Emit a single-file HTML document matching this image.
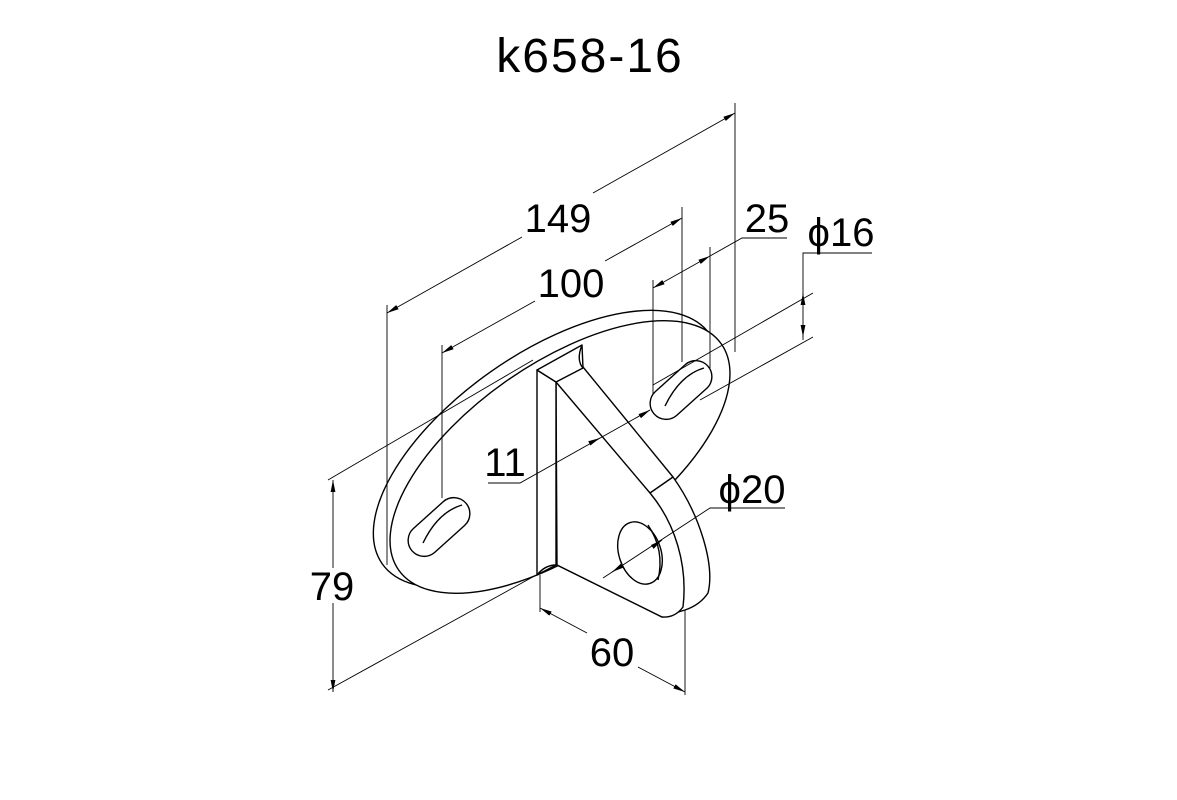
<!DOCTYPE html>
<html><head><meta charset="utf-8"><style>
html,body{margin:0;padding:0;background:#fff;}
svg{display:block;}
text{font-family:"Liberation Sans","DejaVu Sans",sans-serif;fill:#000;}
</style></head><body>
<svg width="1177" height="800" viewBox="0 0 1177 800" xmlns="http://www.w3.org/2000/svg">
<defs>
<marker id="a" viewBox="0 0 10 4" refX="10" refY="2" markerWidth="12" markerHeight="5" orient="auto-start-reverse" markerUnits="userSpaceOnUse"><path d="M0,0 L10,2 L0,4 Z" fill="#000"/></marker>
</defs>
<text x="590" y="72" font-size="48" text-anchor="middle" letter-spacing="2">k658-16</text>

<g stroke="#000" stroke-width="1.4" fill="#fff" stroke-linejoin="round">
<!-- plate -->
<ellipse cx="546" cy="449" rx="200" ry="95" transform="rotate(-35 546 449)"/>
<ellipse cx="560" cy="457" rx="197" ry="93" transform="rotate(-35 560 457)"/>
<!-- slots -->
<rect x="403" y="511" width="72" height="32" rx="16" transform="rotate(-42 439 527)"/>
<path d="M423,543 Q438,512 462,505" fill="none"/>
<rect x="645" y="374" width="72" height="32" rx="16" transform="rotate(-42 681 390)"/>
<path d="M665,406 Q680,375 704,368" fill="none"/>
<!-- rib side / lobe -->
<path d="M583,367 L673,477 C700,515 715,565 708,593 Q700,605 685,610 L662,617 L557,565 L556,382 Z"/>
<!-- rib front -->
<path d="M556,382 L650,493 C675,523 688,565 683,607 Q675,618 662,617 L557,565 Z"/>
<line x1="650" y1="493" x2="673" y2="477"/>
<!-- rib left face and top -->
<path d="M537,370 L556,382 L556,565 L537,575 Z"/>
<path d="M537,370 L582,345 L583,368 L556,382 Z"/>
<path d="M582,345 Q576,360 583,368" fill="none"/>
<path d="M537,575 Q545,565 556,565" fill="none"/>
<!-- hole -->
<ellipse cx="640" cy="553" rx="21" ry="32" transform="rotate(-18 640 553)"/>
<path d="M648,525 Q665,550 658,580" fill="none"/>
</g>

<g stroke="#000" stroke-width="0.9" fill="none">
<!-- 149 -->
<line x1="387" y1="305" x2="387" y2="565"/>
<line x1="735" y1="103" x2="735" y2="352"/>
<line x1="387" y1="313" x2="522" y2="237" marker-start="url(#a)"/>
<line x1="593" y1="193" x2="735" y2="113" marker-end="url(#a)"/>
<!-- 100 -->
<line x1="442" y1="345" x2="442" y2="498"/>
<line x1="682" y1="207" x2="682" y2="362"/>
<line x1="442" y1="353" x2="535" y2="301" marker-start="url(#a)"/>
<line x1="605" y1="261" x2="682" y2="218" marker-end="url(#a)"/>
<!-- 25 -->
<line x1="653" y1="280" x2="653" y2="395"/>
<line x1="710" y1="247" x2="710" y2="368"/>
<line x1="653" y1="288" x2="710" y2="256" marker-start="url(#a)" marker-end="url(#a)"/>
<polyline points="710,256 742,238 787,238"/>
<!-- phi16 -->
<polyline points="872,253 803,253 803,340"/>
<line x1="803" y1="293" x2="803" y2="297" marker-start="url(#a)"/>
<line x1="803" y1="337" x2="803" y2="333" marker-start="url(#a)"/>
<line x1="813" y1="293" x2="653" y2="385"/>
<line x1="813" y1="337" x2="700" y2="400"/>
<!-- 11 -->
<polyline points="488,483 520,483 650,410"/>
<line x1="600" y1="438" x2="592" y2="442" marker-start="url(#a)"/>
<line x1="650" y1="410" x2="640" y2="416" marker-start="url(#a)"/>
<!-- phi20 -->
<polyline points="603,578 710,508 785,508"/>
<line x1="612" y1="572" x2="620" y2="567" marker-start="url(#a)"/>
<line x1="662" y1="540" x2="655" y2="545" marker-start="url(#a)"/>
<!-- 79 -->
<line x1="333" y1="480" x2="333" y2="568" marker-start="url(#a)"/>
<line x1="333" y1="603" x2="333" y2="692" marker-end="url(#a)"/>
<line x1="328" y1="480" x2="533" y2="360"/>
<line x1="328" y1="690" x2="540" y2="573"/>
<!-- 60 -->
<line x1="540" y1="575" x2="540" y2="612"/>
<line x1="685" y1="610" x2="685" y2="695"/>
<line x1="540" y1="608" x2="587" y2="633" marker-start="url(#a)"/>
<line x1="638" y1="667" x2="685" y2="692" marker-end="url(#a)"/>
</g>

<g font-size="40" text-anchor="middle">
<text x="558" y="232">149</text>
<text x="571" y="297">100</text>
<text x="767" y="232">25</text>
<text x="841" y="246">ϕ16</text>
<text x="505" y="476">11</text>
<text x="752" y="503">ϕ20</text>
<text x="332" y="600">79</text>
<text x="612" y="666">60</text>
</g>
</svg>
</body></html>
